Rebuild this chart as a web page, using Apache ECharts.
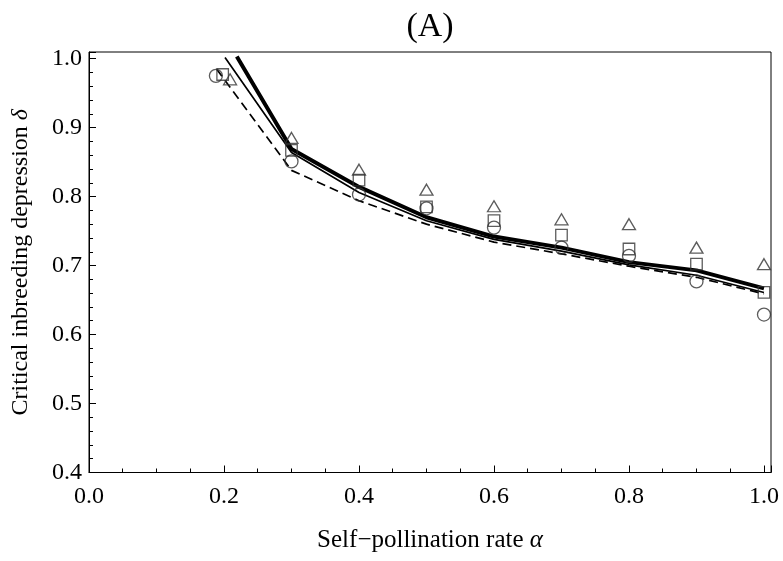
<!DOCTYPE html>
<html>
<head>
<meta charset="utf-8">
<script src="https://cdn.jsdelivr.net/npm/echarts@6/dist/echarts.min.js"></script>
<style>html,body{margin:0;padding:0;background:#fff;}#c{width:783px;height:561px;}</style>
</head>
<body>
<div id="c"></div>
<script>
// x positions of the curves
var lineX = [0.3, 0.4, 0.5, 0.6, 0.7, 0.8, 0.9, 1.0];
var thickStart = [0.219, 1.003];
var thinStart = [0.2015, 1.0015];
var dashStart = [0.189, 0.985];
var thickY = [0.869, 0.814, 0.770, 0.742, 0.726, 0.705, 0.693, 0.667];
var thinY  = [0.864, 0.806, 0.765, 0.738, 0.721, 0.701, 0.686, 0.661];
var dashY  = [0.838, 0.794, 0.760, 0.734, 0.717, 0.699, 0.683, 0.659];

// marker series
var markX = [0.3, 0.4, 0.5, 0.6, 0.7, 0.8, 0.9, 1.0];
var triFirst = [0.209, 0.970];
var sqFirst = [0.198, 0.977];
var cirFirst = [0.188, 0.975];
var triY = [0.885, 0.839, 0.810, 0.786, 0.767, 0.760, 0.726, 0.702];
var sqY  = [0.867, 0.824, 0.785, 0.765, 0.744, 0.724, 0.702, 0.661];
var cirY = [0.851, 0.803, 0.783, 0.755, 0.726, 0.714, 0.677, 0.629];

var xTicks = [0.0, 0.2, 0.4, 0.6, 0.8, 1.0];
var yTicks = [0.4, 0.5, 0.6, 0.7, 0.8, 0.9, 1.0];

function pts(first, xs, ys) {
  var out = [first];
  for (var i = 0; i < xs.length; i++) out.push([xs[i], ys[i]]);
  return out;
}
function near(v, arr) {
  for (var i = 0; i < arr.length; i++) if (Math.abs(v - arr[i]) < 1e-6) return true;
  return false;
}
var FONT = '"Liberation Serif", "Times New Roman", serif';

var chart = echarts.init(document.getElementById('c'), null, {renderer: 'canvas'});
var lineCommon = {type: 'line', showSymbol: false, symbol: 'none', silent: true, animation: false, z: 3, clip: true};
var markCommon = {type: 'scatter', silent: true, animation: false, z: 4,
  itemStyle: {color: 'rgba(255,255,255,0)', borderColor: '#333', borderWidth: 1.3}};

chart.setOption({
  backgroundColor: '#fff',
  animation: false,
  title: {text: '(A)', left: 430, textAlign: 'center', top: 10, padding: [0, 0, 0, 0],
    textStyle: {fontFamily: FONT, fontSize: 34, fontWeight: 'normal', color: '#000'}},
  grid: {left: 89, right: 12, top: 52, bottom: 88.5, show: true, borderColor: '#000', borderWidth: 1, containLabel: false},
  xAxis: {
    type: 'value', min: 0, max: 1.0104, interval: 0.2,
    name: 'Self\u2212pollination rate {i|\u03b1}', nameLocation: 'middle', nameGap: 55,
    nameTextStyle: {fontFamily: FONT, fontSize: 25, color: '#000',
      rich: {i: {fontFamily: FONT, fontSize: 25, fontStyle: 'italic', color: '#000'}}},
    axisLine: {show: true, lineStyle: {color: '#000', width: 1}},
    axisTick: {show: true, inside: true, length: 7, lineStyle: {color: '#000', width: 1}},
    minorTick: {show: true, splitNumber: 4, length: 4, lineStyle: {color: '#000', width: 1}},
    splitLine: {show: false}, minorSplitLine: {show: false},
    axisLabel: {show: true, margin: 12, fontFamily: FONT, fontSize: 24, color: '#000', showMaxLabel: false,
      formatter: function (v) { return near(v, xTicks) ? v.toFixed(1) : ''; }}
  },
  yAxis: {
    type: 'value', min: 0.4, max: 1.0096, interval: 0.1,
    name: 'Critical inbreeding depression {i|\u03b4}', nameLocation: 'middle', nameGap: 56,
    nameTextStyle: {fontFamily: FONT, fontSize: 24, color: '#000',
      rich: {i: {fontFamily: FONT, fontSize: 24, fontStyle: 'italic', color: '#000'}}},
    axisLine: {show: true, lineStyle: {color: '#000', width: 1}},
    axisTick: {show: true, inside: true, length: 7, lineStyle: {color: '#000', width: 1}},
    minorTick: {show: true, splitNumber: 5, length: 4, lineStyle: {color: '#000', width: 1}},
    splitLine: {show: false}, minorSplitLine: {show: false},
    axisLabel: {show: true, margin: 7, fontFamily: FONT, fontSize: 24, color: '#000', showMaxLabel: false,
      formatter: function (v) { return near(v, yTicks) ? v.toFixed(1) : ''; }}
  },
  series: [
    Object.assign({}, lineCommon, {name: 'dashed', data: pts(dashStart, lineX, dashY),
      lineStyle: {color: '#000', width: 1.7, type: [9, 5]}}),
    Object.assign({}, lineCommon, {name: 'thin', data: pts(thinStart, lineX, thinY),
      lineStyle: {color: '#000', width: 1.7, type: 'solid'}}),
    Object.assign({}, lineCommon, {name: 'thick', data: pts(thickStart, lineX, thickY),
      lineStyle: {color: '#000', width: 4, type: 'solid'}}),
    Object.assign({}, markCommon, {name: 'circle', symbol: 'circle', symbolSize: 13, data: pts(cirFirst, markX, cirY)}),
    Object.assign({}, markCommon, {name: 'square', symbol: 'rect', symbolSize: 11.5, data: pts(sqFirst, markX, sqY)}),
    Object.assign({}, markCommon, {name: 'triangle', symbol: 'triangle', symbolSize: [13, 11], data: pts(triFirst, markX, triY)})
  ]
});
</script>
</body>
</html>
